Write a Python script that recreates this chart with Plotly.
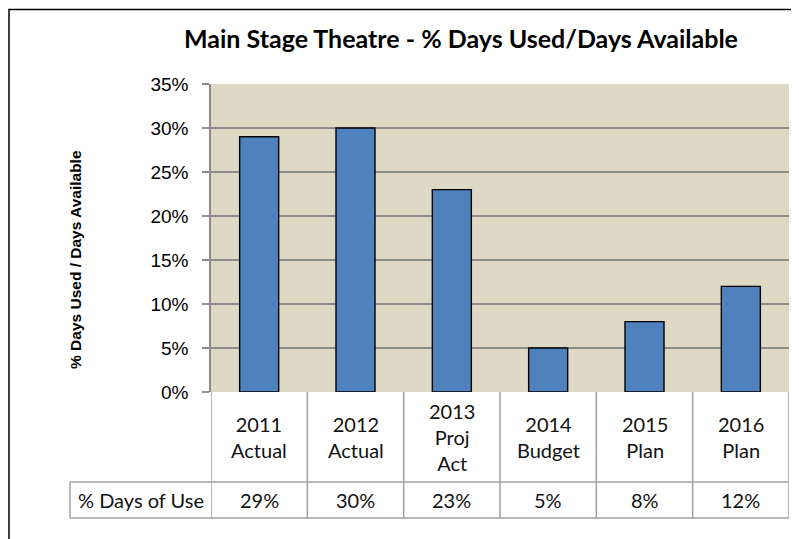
import plotly.graph_objects as go

categories = ["2011<br>Actual", "2012<br>Actual", "2013<br>Proj<br>Act", "2014<br>Budget", "2015<br>Plan", "2016<br>Plan"]
values = [0.29, 0.30, 0.23, 0.05, 0.08, 0.12]
value_labels = ["29%", "30%", "23%", "5%", "8%", "12%"]
row_label = "% Days of Use"
title_text = "Main Stage Theatre - % Days Used/Days Available"
y_title = "% Days Used / Days Available"

# page body has an 8px margin, so the figure starts at (8, 8) in the window
OFF = 8
W, H = 799 - OFF, 539 - OFF
PL, PR, PT, PB = 211, 789, 84, 392  # plot area in window pixels
L, T = PL - OFF, PT - OFF
R = W - (PR - OFF)
B = H - (PB - OFF)
pw = PR - PL
ph = PB - PT

def px_x(p):
    return (p - PL) / pw

def px_y(p):
    return (PB - p) / ph

fig = go.Figure(go.Bar(
    x=list(range(len(categories))), y=values,
    marker=dict(color="#4F81BD", line=dict(color="black", width=1.4)),
    hoverinfo="skip",
))

grid = "#8C8C8C"
tline = "#A0A0A0"
shapes = []
row1 = px_y(482)
row2 = px_y(518)
for i in range(len(categories) + 1):
    shapes.append(dict(type="line", xref="x", yref="paper", x0=i - 0.5, x1=i - 0.5,
                       y0=0, y1=row2, line=dict(color=tline, width=1.5)))
for yy in (row1, row2):
    shapes.append(dict(type="line", xref="paper", yref="paper", x0=px_x(70), x1=1,
                       y0=yy, y1=yy, line=dict(color=tline, width=1.5)))
shapes.append(dict(type="line", xref="paper", yref="paper", x0=px_x(70), x1=px_x(70),
                   y0=row1, y1=row2, line=dict(color=tline, width=1.5)))
shapes.append(dict(type="rect", xref="paper", yref="paper", x0=px_x(9), x1=px_x(830),
                   y0=px_y(570), y1=px_y(9.5), line=dict(color="black", width=1.5),
                   fillcolor="rgba(0,0,0,0)"))

annotations = []
tfont = dict(family="Lato, Open Sans, sans-serif", size=20, color="#111")
for i, c in enumerate(categories):
    annotations.append(dict(x=i, y=px_y(437), xref="x", yref="paper", text=c,
                            xanchor="center", yanchor="middle",
                            showarrow=False, font=tfont, align="center"))
    annotations.append(dict(x=i, y=px_y(500), xref="x", yref="paper", text=value_labels[i],
                            xanchor="center", yanchor="middle",
                            showarrow=False, font=tfont))
annotations.append(dict(x=px_x(140.5), y=px_y(500), xref="paper", yref="paper", text=row_label,
                        xanchor="center", yanchor="middle", showarrow=False, font=tfont))
annotations.append(dict(x=px_x(461), y=px_y(38), xref="paper", yref="paper", text="<b>" + title_text + "</b>",
                        xanchor="center", yanchor="middle", showarrow=False,
                        font=dict(family="Lato, Open Sans, sans-serif", size=25, color="black")))
annotations.append(dict(x=px_x(75), y=px_y(260), xref="paper", yref="paper", text="<b>" + y_title + "</b>",
                        xanchor="center", yanchor="middle", textangle=-90, showarrow=False,
                        font=dict(family="Liberation Sans Narrow, Liberation Sans, Arial", size=15.5, color="black")))

fig.update_layout(
    width=W, height=H,
    margin=dict(l=L, r=R, t=T, b=B, autoexpand=False),
    paper_bgcolor="white", plot_bgcolor="#DED9C4",
    bargap=0.595, showlegend=False,
    shapes=shapes, annotations=annotations,
)
fig.update_xaxes(range=[-0.5, len(categories) - 0.5], showticklabels=False, showgrid=False,
                 zeroline=False, showline=False, ticks="")
fig.update_yaxes(range=[0, 0.35], dtick=0.05, tickformat=".0%", showgrid=True, gridcolor=grid,
                 gridwidth=1.5, zeroline=False, showline=True, linecolor=grid, linewidth=1.5,
                 ticks="outside", ticklen=7, tickcolor=grid, tickwidth=1.5, ticklabelstandoff=10,
                 tickfont=dict(family="Liberation Sans Narrow, Liberation Sans, Arial", size=19, color="black"))

fig.write_html("out.html")
